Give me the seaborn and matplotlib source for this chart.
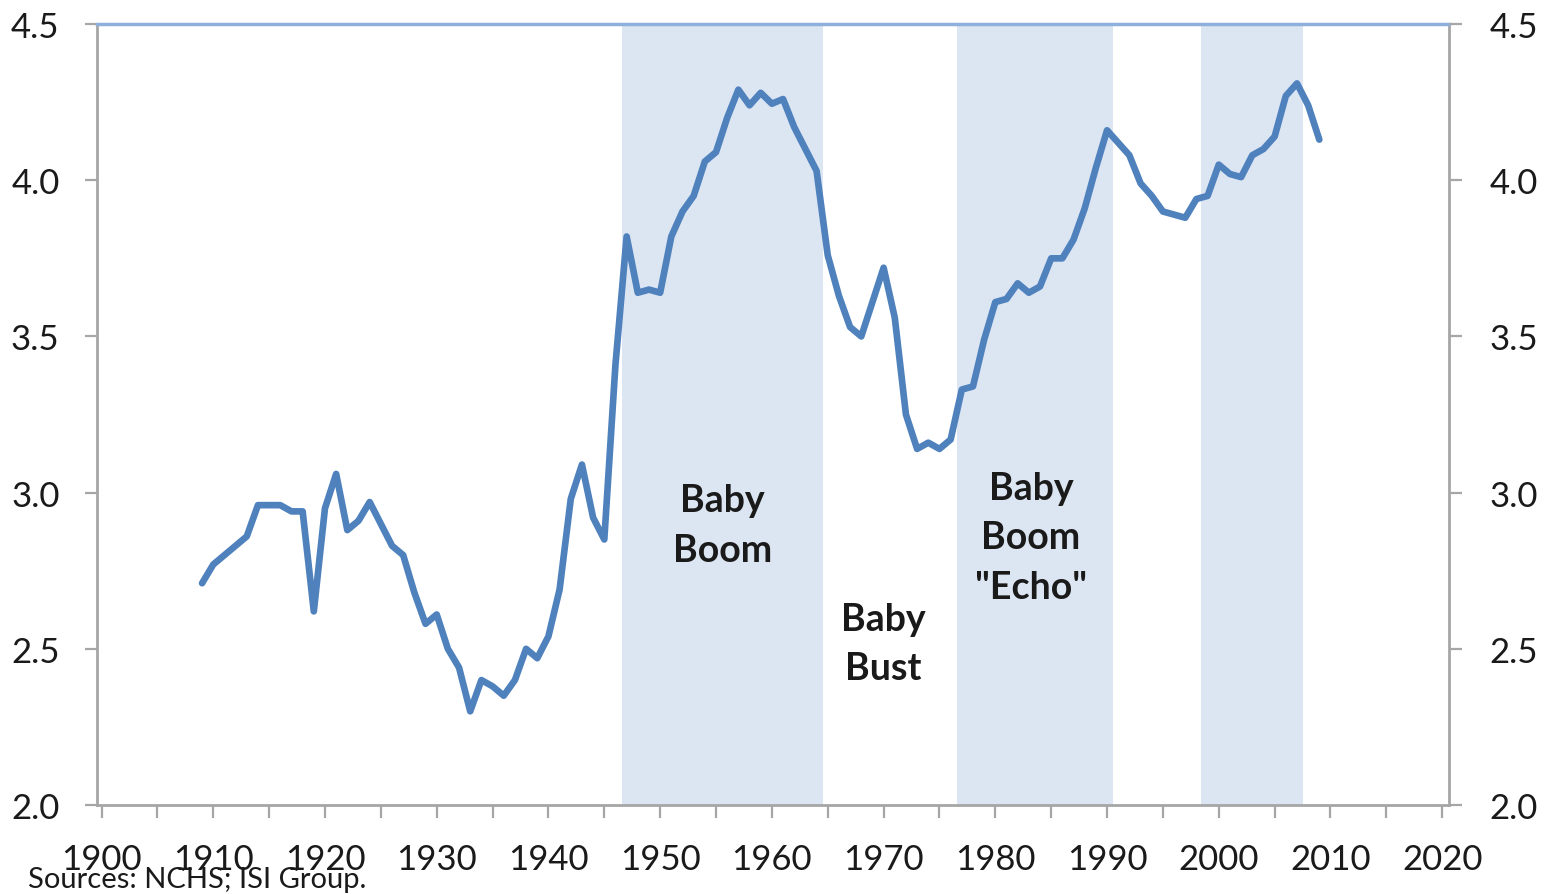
import numpy as np
import pandas as pd
import matplotlib
matplotlib.use("Agg")
import matplotlib.pyplot as plt
import seaborn as sns

# ---- data (millions of births) ----
years = list(range(1909, 2010))
births = [
    2.71, 2.77, 2.80, 2.83, 2.86, 2.96, 2.96, 2.96, 2.94, 2.94,   # 1909-1918
    2.62, 2.95, 3.06, 2.88, 2.91, 2.97, 2.90, 2.83, 2.80, 2.68,   # 1919-1928
    2.58, 2.61, 2.50, 2.44, 2.30, 2.40, 2.38, 2.35, 2.40, 2.50,   # 1929-1938
    2.47, 2.54, 2.69, 2.98, 3.09, 2.92, 2.85, 3.41, 3.82, 3.64,   # 1939-1948
    3.65, 3.64, 3.82, 3.90, 3.95, 4.06, 4.09, 4.20, 4.29, 4.24,   # 1949-1958
    4.28, 4.245, 4.26, 4.17, 4.10, 4.03, 3.76, 3.63, 3.53, 3.50,  # 1959-1968
    3.61, 3.72, 3.56, 3.25, 3.14, 3.16, 3.14, 3.17, 3.33, 3.34,   # 1969-1978
    3.49, 3.61, 3.62, 3.67, 3.64, 3.66, 3.75, 3.75, 3.81, 3.91,   # 1979-1988
    4.04, 4.16, 4.12, 4.08, 3.99, 3.95, 3.90, 3.89, 3.88, 3.94,   # 1989-1998
    3.95, 4.05, 4.02, 4.01, 4.08, 4.10, 4.14, 4.27, 4.31, 4.24,   # 1999-2008
    4.13,                                                         # 2009
]
shade_starts = [1946.6, 1976.6, 1998.4]
shade_ends = [1964.6, 1990.5, 2007.5]
annotations = ["Baby\nBoom", "Baby\nBust", "Baby\nBoom\n\"Echo\""]
annot_x = [1955.6, 1970.0, 1983.2]
annot_y = [3.03, 2.65, 3.07]
x_ticks = list(range(1900, 2021, 10))
y_ticks = [2.0, 2.5, 3.0, 3.5, 4.0, 4.5]
source_text = "Sources: NCHS; ISI Group."

df = pd.DataFrame({"year": years, "births": births})

sns.set_theme(style="white")
plt.rcParams["font.family"] = ["Lato", "DejaVu Sans"]

fig = plt.figure(figsize=(15.48, 8.95), dpi=100)
ax = fig.add_axes([0.0627, 0.0994, 0.8733, 0.8726])

line_color = "#4F81BD"
shade_color = "#DCE5F2"
spine_color = "#A6A6A6"
text_color = "#1a1a1a"

for s, e in zip(shade_starts, shade_ends):
    ax.axvspan(s, e, color=shade_color, lw=0, zorder=0)

sns.lineplot(data=df, x="year", y="births", ax=ax, color=line_color,
             linewidth=4.8, zorder=3)

ax.set_xlim(1899.6, 2020.6)
ax.set_ylim(2.0, 4.5)
ax.set_xlabel("")
ax.set_ylabel("")

ax.set_xticks(x_ticks)
ax.set_xticks(list(range(1905, 2021, 10)), minor=True)
ax.set_xticklabels([str(t) for t in x_ticks])
ax.set_yticks(y_ticks)
ax.set_yticklabels([f"{t:.1f}" for t in y_ticks])

for side in ["left", "bottom", "right"]:
    ax.spines[side].set_color(spine_color)
    ax.spines[side].set_linewidth(2.0)
ax.spines["top"].set_color("#8EB0DC")
ax.spines["top"].set_linewidth(2.5)

ax.tick_params(axis="x", which="both", direction="out", length=9, width=1.6,
               color=spine_color, labelsize=25, labelcolor=text_color, pad=18,
               bottom=True)
ax.tick_params(axis="y", which="both", direction="out", length=9, width=1.6,
               color=spine_color, labelsize=25, labelcolor=text_color, pad=18,
               left=True)

ax2 = ax.twinx()
ax2.set_ylim(2.0, 4.5)
ax2.set_yticks(y_ticks)
ax2.set_yticklabels([f"{t:.1f}" for t in y_ticks])
ax2.tick_params(axis="y", direction="out", length=9, width=1.6,
                color=spine_color, labelsize=25, labelcolor=text_color, pad=20,
                right=True)
for sp in ax2.spines.values():
    sp.set_visible(False)
ax2.grid(False)
ax.grid(False)

for txt, x, y in zip(annotations, annot_x, annot_y):
    ax.text(x, y, txt, ha="center", va="top", fontsize=27, fontweight="bold",
            color=text_color, linespacing=1.55, zorder=4)

fig.text(0.018, 0.002, source_text, fontsize=21, color=text_color,
         ha="left", va="bottom")

fig.savefig("out.png", dpi=100)
